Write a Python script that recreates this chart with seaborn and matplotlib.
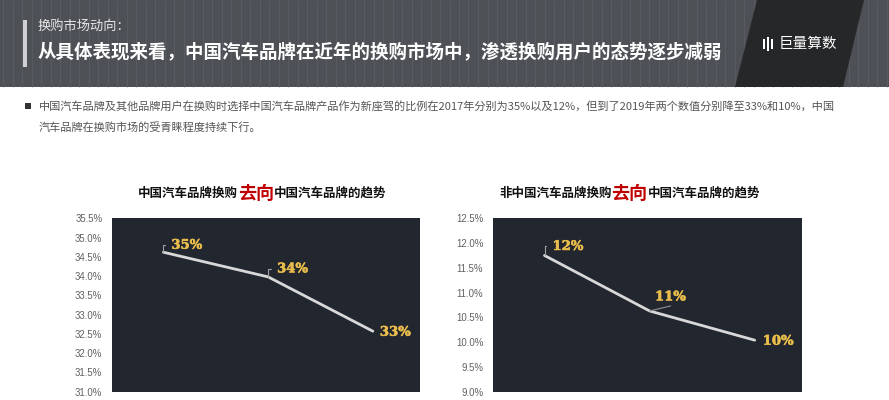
import matplotlib
matplotlib.use("Agg")
import matplotlib.pyplot as plt
import matplotlib.patches as mpatches
import matplotlib.patheffects as pe
import seaborn as sns
import pandas as pd
import numpy as np

# ---------------- data ----------------
years = ["2017", "2018", "2019"]
cn_values = [34.62, 33.98, 32.57]
cn_labels = ["35%", "34%", "33%"]
noncn_values = [11.75, 10.63, 10.04]
noncn_labels = ["12%", "11%", "10%"]
cn_yticks = [31.0, 31.5, 32.0, 32.5, 33.0, 33.5, 34.0, 34.5, 35.0, 35.5]
noncn_yticks = [9.0, 9.5, 10.0, 10.5, 11.0, 11.5, 12.0, 12.5]

header_small = "换购市场动向："
header_big = "从具体表现来看，中国汽车品牌在近年的换购市场中，渗透换购用户的态势逐步减弱"
bullet_line1 = "中国汽车品牌及其他品牌用户在换购时选择中国汽车品牌产品作为新座驾的比例在2017年分别为35%以及12%，但到了2019年两个数值分别降至33%和10%，中国"
bullet_line2 = "汽车品牌在换购市场的受青睐程度持续下行。"
title_left = ("中国汽车品牌换购", "去向", "中国汽车品牌的趋势")
title_right = ("非中国汽车品牌换购", "去向", "中国汽车品牌的趋势")
logo_text = "巨量算数"

# ---------------- style ----------------
sns.set_theme(style="white")
plt.rcParams['font.family'] = ['Noto Sans CJK SC', 'DejaVu Sans']

W, H = 889, 400
fig = plt.figure(figsize=(W / 100, H / 100), dpi=100)
fig.patch.set_facecolor("white")

def fx(px):
    return px / W

def fy(py):
    return 1 - py / H

# header band
fig.patches.append(mpatches.Rectangle((0, fy(87)), 1, 87 / H, transform=fig.transFigure,
                                      facecolor="#4d5055", edgecolor="none", zorder=0))
for xs in np.arange(3, W, 9.5):
    fig.lines.append(plt.Line2D([fx(xs), fx(xs)], [fy(87), 1], transform=fig.transFigure,
                                color="#6c6f75", lw=0.6, alpha=0.45, zorder=0.5))
# logo parallelogram
fig.patches.append(mpatches.Polygon([(fx(757), fy(0)), (fx(864), fy(0)), (fx(843), fy(87)), (fx(735), fy(87))],
                                    closed=True, transform=fig.transFigure,
                                    facecolor="#262729", edgecolor="none", zorder=1))
# logo icon
for (x0, hh) in [(763, 10), (767, 14), (771, 10)]:
    fig.patches.append(mpatches.Rectangle((fx(x0), fy(44 + hh / 2)), fx(2), hh / H,
                                          transform=fig.transFigure, facecolor="white",
                                          edgecolor="none", zorder=2))
fig.text(fx(779), fy(44), logo_text, color="white", fontsize=10.5, ha="left", va="center", zorder=3)

# left bar
fig.patches.append(mpatches.Rectangle((fx(23), fy(67)), fx(4), 47 / H, transform=fig.transFigure,
                                      facecolor="#d0d0d4", edgecolor="none", zorder=2))
fig.text(fx(38), fy(26), header_small, color="#e6e6e6", fontsize=9.5, ha="left", va="center", zorder=3)
fig.text(fx(38), fy(52), header_big, color="white", fontsize=13.3, fontweight="bold",
         ha="left", va="center", zorder=3)

# bullet
fig.patches.append(mpatches.Rectangle((fx(25), fy(109)), fx(6), 6 / H, transform=fig.transFigure,
                                      facecolor="#333333", edgecolor="none"))
fig.text(fx(39), fy(106), bullet_line1, color="#555555", fontsize=8.05, ha="left", va="center")
fig.text(fx(39), fy(127), bullet_line2, color="#555555", fontsize=8.05, ha="left", va="center")

# chart titles
def title(parts, x_start, y):
    sizes = [9.0, 13.0, 9.0]
    colors = ["#111111", "#c00000", "#111111"]
    px_per_pt = 100 / 72
    x = x_start
    for part, s, c in zip(parts, sizes, colors):
        fig.text(fx(x), fy(y), part, color=c, fontsize=s, fontweight="bold",
                 ha="left", va="center")
        x += len(part) * s * px_per_pt

title(title_left, 138, 193)
title(title_right, 499, 193)

gold = "#e9bd4c"
dark = "#22262f"
line_c = "#d8d8d8"
thick = [pe.withStroke(linewidth=0.4, foreground=gold)]

def make_axes(rect, values, labels, yticks, annos):
    ax = fig.add_axes(rect)
    df = pd.DataFrame({"pos": np.arange(len(years)), "year": years, "value": values})
    sns.lineplot(data=df, x="pos", y="value", ax=ax, color=line_c, linewidth=2.0)
    ax.set_facecolor(dark)
    for sp in ax.spines.values():
        sp.set_visible(False)
    ax.set_xlim(-0.49, 2.45)
    ax.set_ylim(yticks[0], yticks[-1])
    ax.set_yticks(yticks)
    ax.set_yticklabels([f"{t:.1f}%" for t in yticks], fontsize=6.9, color="#606060",
                       family=["Liberation Sans", "DejaVu Sans"])
    ax.tick_params(axis="y", length=0, pad=7)
    ax.set_xticks([])
    ax.set_xlabel("")
    ax.set_ylabel("")
    ax.grid(False)
    for i, (v, lab) in enumerate(zip(values, labels)):
        kind, dx, dy = annos[i]
        tkw = dict(color=gold, fontsize=9.5, fontweight="bold", family=["DejaVu Serif"],
                   path_effects=thick)
        if kind == "angle":
            ax.annotate(lab, xy=(i, v), xytext=(dx, dy), textcoords="offset pixels",
                        ha="left", va="center",
                        arrowprops=dict(arrowstyle="-", color="#a0a0a0", lw=0.8,
                                        connectionstyle="angle,angleA=0,angleB=90,rad=0",
                                        shrinkA=2, shrinkB=0), **tkw)
        elif kind == "diag":
            ax.annotate("", xy=(i, v), xytext=(dx, dy - 9), textcoords="offset pixels",
                        arrowprops=dict(arrowstyle="-", color="#909090", lw=0.8,
                                        shrinkA=0, shrinkB=0))
            ax.annotate(lab, xy=(i, v), xytext=(dx, dy), textcoords="offset pixels",
                        ha="center", va="center", **tkw)
        else:
            ax.annotate(lab, xy=(i, v), xytext=(dx, dy), textcoords="offset pixels",
                        ha="left", va="center", **tkw)
    return ax

make_axes([fx(112), 1 - 391.7 / H, 308 / W, 173.4 / H], cn_values, cn_labels, cn_yticks,
          [("angle", 8, 7), ("angle", 9, 8), ("plain", 7, -1)])
make_axes([fx(493), 1 - 391.7 / H, 309 / W, 173.4 / H], noncn_values, noncn_labels, noncn_yticks,
          [("angle", 8, 9), ("diag", 21, 14), ("plain", 8, -1)])

fig.savefig("out.png", dpi=100, facecolor="white")
